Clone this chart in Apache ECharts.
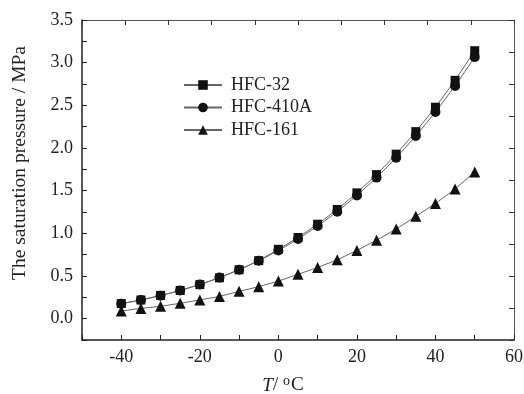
<!DOCTYPE html>
<html><head><meta charset="utf-8">
<script src="https://cdn.jsdelivr.net/npm/echarts@6/dist/echarts.min.js"></script>
<style>html,body{margin:0;padding:0;background:#fff}#c{width:524px;height:394px}</style>
</head><body><div id="c"></div>
<script>
const temps = [-40,-35,-30,-25,-20,-15,-10,-5,0,5,10,15,20,25,30,35,40,45,50];
const hfc32 = [0.177,0.219,0.273,0.330,0.399,0.479,0.573,0.680,0.813,0.951,1.107,1.280,1.474,1.688,1.928,2.192,2.478,2.793,3.140];
const hfc410a = [0.175,0.218,0.269,0.330,0.400,0.481,0.573,0.678,0.798,0.933,1.085,1.254,1.444,1.653,1.886,2.142,2.421,2.728,3.065];
const hfc161 = [0.090,0.120,0.145,0.180,0.220,0.260,0.320,0.375,0.440,0.520,0.600,0.690,0.800,0.920,1.050,1.200,1.350,1.520,1.720];
const seriesNames = ['HFC-32','HFC-410A','HFC-161'];
const yTitle = 'The saturation pressure / MPa';

const font = '"Liberation Serif","Times New Roman",serif';
const chart = echarts.init(document.getElementById('c'));
const mk = (arr) => temps.map((t,i)=>[t,arr[i]]);
const lineStyle = {color:'#666', width:1};
const itemStyle = {color:'#111'};
const tc = '#222';
chart.setOption({
  animation:false,
  grid:{left:82,right:10,top:20,bottom:54,containLabel:false,outerBoundsMode:'none'},
  legend:{
    orient:'vertical', left:183, top:76, itemGap:4.5, padding:0,
    itemWidth:38, itemHeight:12,
    textStyle:{fontFamily:font,fontSize:18,color:tc,padding:[0,0,0,4]},
    data:seriesNames
  },
  xAxis:[{
    type:'value', min:-50, max:60, interval:10, position:'bottom',
    axisLine:{show:true,onZero:false,lineStyle:{color:tc,width:1.5}},
    axisTick:{show:true,inside:true,length:5,lineStyle:{color:tc}},
    splitLine:{show:false},
    axisLabel:{fontFamily:font,fontSize:18,color:tc,margin:8,
      formatter:v=> (v%20===0 && v!==-50) ? String(v) : ''},
    name:'{i|T}/ {s|o}C', nameLocation:'middle', nameGap:34,
    nameTextStyle:{fontFamily:font,fontSize:19,color:tc,padding:[0,30,0,0],
      rich:{i:{fontFamily:font,fontSize:19,fontStyle:'italic',color:tc},
            s:{fontFamily:font,fontSize:14,color:tc,padding:[0,1,9,0]}}}
  },{
    type:'value', min:0, max:10, interval:1, position:'top',
    axisLine:{show:true,onZero:false,lineStyle:{color:'#555',width:1}},
    axisTick:{show:true,inside:true,length:5,lineStyle:{color:'#333'}},
    axisLabel:{show:false}, splitLine:{show:false}
  }],
  yAxis:[{
    type:'value', min:-0.25, max:3.5, interval:0.25, position:'left',
    axisLine:{show:true,onZero:false,lineStyle:{color:tc,width:1.5}},
    axisTick:{show:true,inside:true,length:5,lineStyle:{color:tc}},
    splitLine:{show:false},
    axisLabel:{fontFamily:font,fontSize:18,color:tc,margin:9,
      formatter:v=> (Math.abs(Math.round(v*2)-v*2)<1e-6 && v>=0) ? v.toFixed(1) : ''},
    name:yTitle, nameLocation:'middle', nameGap:52,
    nameTextStyle:{fontFamily:font,fontSize:19.5,color:tc,padding:[0,0,0,34]}
  },{
    type:'value', min:0, max:10, interval:1, position:'right',
    axisLine:{show:true,onZero:false,lineStyle:{color:'#555',width:1}},
    axisTick:{show:true,inside:true,length:5,lineStyle:{color:'#333'}},
    axisLabel:{show:false}, splitLine:{show:false}
  }],
  series:[
    {name:seriesNames[0],type:'line',data:mk(hfc32),symbol:'rect',symbolSize:9,lineStyle,itemStyle},
    {name:seriesNames[1],type:'line',data:mk(hfc410a),symbol:'circle',symbolSize:10,lineStyle,itemStyle},
    {name:seriesNames[2],type:'line',data:mk(hfc161),symbol:'triangle',symbolSize:11,lineStyle,itemStyle},
    {name:'frame',type:'line',xAxisIndex:1,yAxisIndex:1,data:[],silent:true}
  ]
});
</script></body></html>
